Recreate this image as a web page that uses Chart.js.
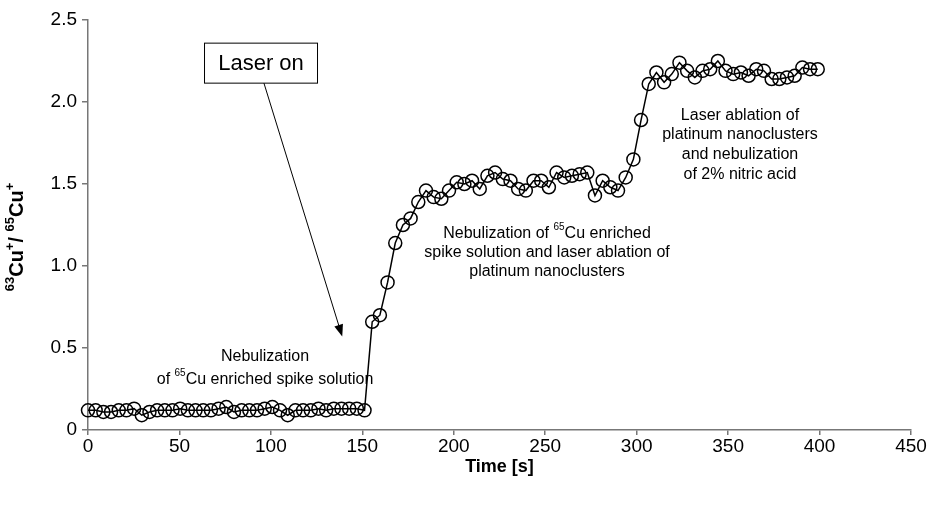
<!DOCTYPE html>
<html>
<head>
<meta charset="utf-8">
<script src="https://cdn.jsdelivr.net/npm/chart.js@4.4.1/dist/chart.umd.min.js"></script>
<style>
  html, body { margin: 0; padding: 0; background: #fff; }
  #wrap { width: 932px; height: 506px; }
</style>
</head>
<body>
<div id="wrap"><canvas id="ratio" width="932" height="506"></canvas></div>
<script>
// time points [s]
const times = [
  0, 4.2, 8.4, 12.6, 16.8, 21, 25.2, 29.4, 33.6, 37.8,
  42, 46.2, 50.4, 54.6, 58.8, 63, 67.2, 71.4, 75.6, 79.8,
  84, 88.2, 92.4, 96.6, 100.8, 105, 109.2, 113.4, 117.6, 121.8,
  126, 130.2, 134.4, 138.6, 142.8, 147, 151.2, 155.4, 159.6, 163.8,
  168, 172.2, 176.4, 180.6, 184.8, 189, 193.2, 197.4, 201.6, 205.8,
  210, 214.2, 218.4, 222.6, 226.8, 231, 235.2, 239.4, 243.6, 247.8,
  252, 256.2, 260.4, 264.6, 268.8, 273, 277.2, 281.4, 285.6, 289.8,
  294, 298.2, 302.4, 306.6, 310.8, 315, 319.2, 323.4, 327.6, 331.8,
  336, 340.2, 344.4, 348.6, 352.8, 357, 361.2, 365.4, 369.6, 373.8,
  378, 382.2, 386.4, 390.6, 394.8, 399
]

// 63Cu+/65Cu+ ratio
const ratio = [
  0.12, 0.12, 0.11, 0.11, 0.12, 0.12, 0.13, 0.09, 0.11, 0.12,
  0.12, 0.12, 0.13, 0.12, 0.12, 0.12, 0.12, 0.13, 0.14, 0.11,
  0.12, 0.12, 0.12, 0.13, 0.14, 0.12, 0.09, 0.12, 0.12, 0.12,
  0.13, 0.12, 0.13, 0.13, 0.13, 0.13, 0.12,
  0.66, 0.70, 0.90, 1.14, 1.25, 1.29, 1.39, 1.46, 1.42, 1.41,
  1.46, 1.51, 1.50, 1.52, 1.47, 1.55, 1.57, 1.53, 1.52, 1.47,
  1.46, 1.52, 1.52, 1.48, 1.57, 1.54, 1.55, 1.56, 1.57, 1.43,
  1.52, 1.48, 1.46, 1.54, 1.65, 1.89, 2.11, 2.18, 2.12, 2.17,
  2.24, 2.19, 2.15, 2.19, 2.20, 2.25, 2.19, 2.17, 2.18, 2.16,
  2.20, 2.19, 2.14, 2.14, 2.15, 2.16, 2.21, 2.20, 2.20
]

const xTicks = [0, 50, 100, 150, 200, 250, 300, 350, 400, 450]
const yTicks = [0, 0.5, 1.0, 1.5, 2.0, 2.5]

const FONT = '"Liberation Sans", Arial, sans-serif'

// text with superscripts, parts = [[text, isSup], ...], centred on cx
const drawRich = (ctx, parts, cx, cy, size, bold) => {
    const w = bold ? 'bold ' : ''
    const supSize = Math.round(size * 0.65)
    let total = 0
    parts.forEach(p => {
        ctx.font = w + (p[1] ? supSize : size) + 'px ' + FONT
        total += ctx.measureText(p[0]).width
    })
    let x = cx - total / 2
    ctx.textAlign = 'left'
    ctx.textBaseline = 'middle'
    parts.forEach(p => {
        ctx.font = w + (p[1] ? supSize : size) + 'px ' + FONT
        ctx.fillText(p[0], x, p[1] ? cy - size * 0.35 : cy)
        x += ctx.measureText(p[0]).width
    })
}

const notes = {
    id: 'notes',
    afterDraw(chart) {
        const ctx = chart.ctx
        const xs = chart.scales.x
        const ys = chart.scales.y
        ctx.save()
        ctx.fillStyle = '#000'
        ctx.strokeStyle = '#000'

        // y axis title
        ctx.save()
        ctx.translate(17, 237)
        ctx.rotate(-Math.PI / 2)
        drawRich(ctx, [['63', true], ['Cu', false], ['+', true], ['/ ', false], ['65', true], ['Cu', false], ['+', true]], 0, 0, 20, true)
        ctx.restore()

        // Laser on box + arrow
        const bx = xs.getPixelForValue(94.6), by = ys.getPixelForValue(2.24)
        ctx.lineWidth = 1
        ctx.strokeRect(bx - 56.5, by - 19.5, 113, 40)
        ctx.font = '22px ' + FONT
        ctx.textAlign = 'center'
        ctx.textBaseline = 'middle'
        ctx.fillText('Laser on', bx, by + 1)

        const ax0 = xs.getPixelForValue(96.2), ay0 = ys.getPixelForValue(2.115)
        const ax1 = xs.getPixelForValue(139), ay1 = ys.getPixelForValue(0.57)
        const ang = Math.atan2(ay1 - ay0, ax1 - ax0)
        ctx.beginPath()
        ctx.moveTo(ax0, ay0)
        ctx.lineTo(ax1 - 8 * Math.cos(ang), ay1 - 8 * Math.sin(ang))
        ctx.stroke()
        ctx.beginPath()
        ctx.moveTo(ax1, ay1)
        ctx.lineTo(ax1 - 12 * Math.cos(ang) + 4.5 * Math.sin(ang), ay1 - 12 * Math.sin(ang) - 4.5 * Math.cos(ang))
        ctx.lineTo(ax1 - 12 * Math.cos(ang) - 4.5 * Math.sin(ang), ay1 - 12 * Math.sin(ang) + 4.5 * Math.cos(ang))
        ctx.closePath()
        ctx.fill()

        // region labels
        const s = 16
        drawRich(ctx, [['Nebulization', false]], xs.getPixelForValue(96.8), ys.getPixelForValue(0.445), s)
        drawRich(ctx, [['of ', false], ['65', true], ['Cu enriched spike solution', false]], xs.getPixelForValue(96.8), ys.getPixelForValue(0.31), s)

        const mx = xs.getPixelForValue(251)
        drawRich(ctx, [['Nebulization of ', false], ['65', true], ['Cu enriched', false]], mx, ys.getPixelForValue(1.20), s)
        drawRich(ctx, [['spike solution and laser ablation of', false]], mx, ys.getPixelForValue(1.08), s)
        drawRich(ctx, [['platinum nanoclusters', false]], mx, ys.getPixelForValue(0.963), s)

        const rx = xs.getPixelForValue(356.5)
        drawRich(ctx, [['Laser ablation of', false]], rx, ys.getPixelForValue(1.915), s)
        drawRich(ctx, [['platinum nanoclusters', false]], rx, ys.getPixelForValue(1.80), s)
        drawRich(ctx, [['and nebulization', false]], rx, ys.getPixelForValue(1.677), s)
        drawRich(ctx, [['of 2% nitric acid', false]], rx, ys.getPixelForValue(1.56), s)

        ctx.restore()
    }
}

const ctx = document.querySelector('#ratio')
const chart = new Chart(ctx, {
    type: 'line',
    data: {
        datasets: [{
            label: 'ratio',
            data: times.map((t, i) => ({ x: t, y: ratio[i] })),
            borderColor: '#000',
            borderWidth: 1.5,
            pointRadius: 6.5,
            pointBorderWidth: 1.5,
            pointBorderColor: '#000',
            pointBackgroundColor: 'rgba(0,0,0,0)',
            tension: 0,
            clip: false
        }]
    },
    options: {
        responsive: false,
        animation: false,
        layout: { padding: { top: 20, right: 21, left: 0, bottom: 24 } },
        plugins: { legend: { display: false }, tooltip: { enabled: false } },
        scales: {
            x: {
                type: 'linear',
                min: 0, max: 450,
                afterBuildTicks: s => { s.ticks = xTicks.map(v => ({ value: v })) },
                afterFit: s => { s.height = 52 },
                border: { color: '#777', width: 1.5 },
                grid: { drawOnChartArea: false, tickLength: 5, color: '#777', lineWidth: 1.5 },
                ticks: { color: '#000', font: { family: FONT, size: 19 }, padding: 0, maxRotation: 0 },
                title: {
                    display: true, text: 'Time [s]', color: '#000',
                    font: { family: FONT, size: 18, weight: 'bold' }
                }
            },
            y: {
                min: 0, max: 2.5,
                afterBuildTicks: s => { s.ticks = yTicks.map(v => ({ value: v })) },
                afterFit: s => { s.width = 88 },
                border: { color: '#777', width: 1.5 },
                grid: { drawOnChartArea: false, tickLength: 6, color: '#777', lineWidth: 1.5 },
                ticks: {
                    color: '#000', font: { family: FONT, size: 19 }, padding: 5,
                    callback: v => v === 0 ? '0' : v.toFixed(1)
                }
            }
        }
    },
    plugins: [notes]
})
</script>
</body>
</html>
